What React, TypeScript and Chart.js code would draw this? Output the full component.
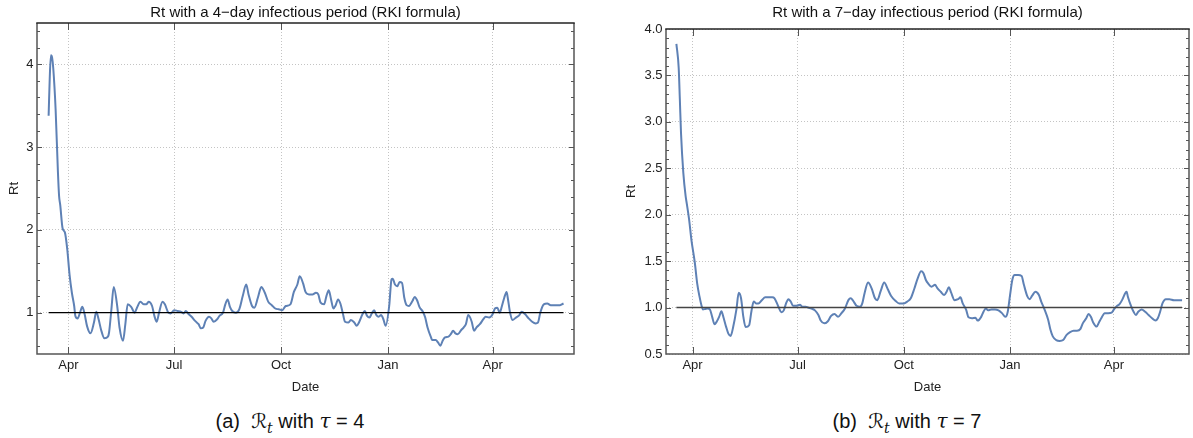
import React, { useEffect, useRef } from "react";
import { Chart, registerables } from "chart.js";

Chart.register(...registerables);

// ---------- tick labels ----------
const xTickDays = [0, 91, 183, 275, 365]; // days since 1 Apr 2020
const xTickLabels = ["Apr", "Jul", "Oct", "Jan", "Apr"];
const leftYTicks = [1, 2, 3, 4];
const rightYTicks = [0.5, 1.0, 1.5, 2.0, 2.5, 3.0, 3.5, 4.0];

// ---------- series: tau = 4 ----------
const leftDays = [
  -17, -16, -15, -14, -13, -11, -9, -8, -7, -5, -3, -1, 1, 3, 5, 6, 8, 10, 12, 14, 16, 19, 22, 24, 26, 28, 31, 34, 35, 37,
  39, 42, 44, 47, 49, 51, 54, 57, 59, 62, 65, 67, 69, 72, 74, 76, 78, 81, 83, 86, 88, 91, 94, 97, 99, 101, 103, 106, 109,
  112, 114, 116, 118, 121, 123, 125, 128, 130, 133, 135, 137, 139, 141, 144, 147, 150, 153, 155, 158, 160, 163, 166, 169,
  172, 175, 178, 181, 184, 187, 191, 194, 197, 199, 202, 204, 207, 210, 213, 215, 217, 220, 222, 224, 226, 228, 230, 232,
  234, 236, 238, 241, 243, 246, 248, 250, 253, 255, 257, 259, 261, 263, 265, 267, 269, 271, 273, 276, 278, 279, 281, 283,
  285, 287, 289, 291, 293, 296, 298, 300, 302, 305, 307, 309, 312, 313, 316, 318, 320, 322, 324, 327, 329, 331, 333, 335,
  338, 340, 342, 344, 347, 349, 351, 354, 357, 359, 362, 365, 367, 369, 371, 373, 375, 377, 378, 380, 382, 385, 388, 390,
  393, 396, 399, 402, 404, 406, 409, 412, 415, 418, 421, 423, 426,
];
const leftRt = [
  3.38, 3.85, 4.11, 4.08, 3.95, 3.46, 2.7, 2.41, 2.3, 2.02, 1.97, 1.77, 1.46, 1.24, 1.08, 0.96, 0.93, 1.0, 1.07, 0.98, 0.84,
  0.75, 0.88, 1.01, 0.92, 0.8, 0.69, 0.71, 0.76, 1.04, 1.31, 1.08, 0.82, 0.66, 0.86, 1.1, 1.07, 1.0, 1.06, 1.13, 1.1, 1.1,
  1.13, 1.08, 0.96, 0.89, 1.0, 1.13, 1.1, 1.0, 0.99, 1.03, 1.02, 1.01, 0.99, 1.02, 0.99, 0.95, 0.9, 0.86, 0.81, 0.82, 0.9,
  0.95, 0.93, 0.89, 0.92, 0.96, 1.0, 1.1, 1.16, 1.07, 1.02, 1.0, 1.04, 1.2, 1.34, 1.22, 1.08, 1.06, 1.18, 1.31, 1.24, 1.13,
  1.09, 1.05, 1.04, 1.03, 1.08, 1.1, 1.25, 1.34, 1.44, 1.35, 1.25, 1.22, 1.22, 1.24, 1.22, 1.12, 1.1, 1.2, 1.27, 1.16,
  1.05, 1.09, 1.16, 1.11, 1.0, 0.89, 0.88, 0.91, 0.88, 0.84, 0.88, 0.98, 1.02, 0.96, 0.94, 0.99, 1.03, 0.97, 0.95, 0.97,
  0.92, 0.84, 1.08, 1.4, 1.41, 1.34, 1.32, 1.37, 1.36, 1.18, 1.09, 1.08, 1.14, 1.19, 1.15, 1.07, 1.01, 0.94, 0.82, 0.7,
  0.67, 0.67, 0.64, 0.6, 0.66, 0.7, 0.71, 0.74, 0.78, 0.75, 0.74, 0.79, 0.82, 0.86, 0.97, 0.89, 0.78, 0.82, 0.86, 0.92,
  0.95, 0.94, 0.98, 1.05, 1.06, 1.0, 1.08, 1.18, 1.25, 1.18, 1.0, 0.91, 0.94, 0.97, 1.01, 0.98, 0.93, 0.89, 0.87, 0.88,
  1.0, 1.1, 1.11, 1.09, 1.09, 1.09, 1.09, 1.11,
];

// ---------- series: tau = 7 ----------
const rightDays = [
  -14, -12, -11, -10, -8, -6, -5, -3, -1, 2, 4, 6, 8, 9, 11, 13, 15, 17, 19, 21, 23, 25, 27, 29, 31, 33, 35, 38, 40, 42,
  44, 46, 49, 51, 53, 55, 57, 60, 63, 66, 69, 71, 74, 77, 79, 81, 83, 85, 87, 90, 93, 95, 98, 100, 103, 106, 109, 111,
  114, 117, 120, 123, 126, 129, 132, 135, 137, 139, 142, 145, 147, 149, 152, 155, 158, 160, 163, 166, 169, 172, 176, 179,
  183, 186, 189, 192, 195, 198, 200, 202, 204, 207, 210, 212, 215, 218, 220, 222, 224, 227, 230, 232, 234, 237, 239, 242,
  245, 247, 250, 252, 254, 256, 259, 262, 265, 268, 271, 273, 275, 277, 279, 282, 285, 287, 290, 292, 294, 297, 300, 302,
  305, 308, 310, 312, 315, 318, 321, 324, 327, 330, 333, 336, 338, 341, 343, 345, 347, 350, 352, 354, 357, 360, 363, 365,
  367, 370, 372, 375, 376, 377, 380, 382, 384, 386, 389, 392, 395, 398, 401, 403, 405, 407, 410, 413, 417, 420, 424,
];
const rightRt = [
  3.84, 3.58, 3.24, 2.88, 2.45, 2.2, 2.12, 1.95, 1.73, 1.48, 1.26, 1.12, 1.01, 0.98, 0.985, 0.99, 0.98, 0.9, 0.82, 0.85,
  0.9, 0.96, 0.885, 0.795, 0.72, 0.695, 0.78, 0.98, 1.16, 1.1, 0.9, 0.79, 0.81, 0.96, 1.065, 1.045, 1.045, 1.08, 1.11,
  1.11, 1.11, 1.1, 1.02, 0.95, 0.97, 1.045, 1.09, 1.065, 1.02, 1.02, 1.03, 1.01, 1.01, 1.0, 0.99, 0.97, 0.92, 0.86, 0.83,
  0.85, 0.91, 0.93, 0.9, 0.94, 0.99, 1.08, 1.1, 1.075, 1.02, 1.01, 1.045, 1.155, 1.27, 1.21, 1.1, 1.08, 1.18, 1.27, 1.2,
  1.125, 1.07, 1.045, 1.045, 1.065, 1.1, 1.2, 1.315, 1.39, 1.37, 1.3, 1.26, 1.225, 1.245, 1.21, 1.17, 1.135, 1.17, 1.22,
  1.16, 1.08, 1.09, 1.11, 1.045, 0.975, 0.895, 0.885, 0.89, 0.86, 0.9, 0.955, 0.99, 0.97, 0.98, 0.98, 0.97, 0.94, 0.9,
  0.955, 1.135, 1.3, 1.35, 1.35, 1.34, 1.245, 1.12, 1.09, 1.125, 1.17, 1.135, 1.065, 0.975, 0.87, 0.76, 0.69, 0.65, 0.64,
  0.65, 0.705, 0.735, 0.75, 0.75, 0.77, 0.83, 0.885, 0.93, 0.9, 0.84, 0.795, 0.84, 0.885, 0.94, 0.94, 0.945, 0.98, 1.01,
  1.04, 1.08, 1.16, 1.17, 1.12, 1.01, 0.955, 0.92, 0.955, 0.98, 0.955, 0.92, 0.885, 0.86, 0.885, 0.955, 1.045, 1.09, 1.09,
  1.08, 1.08, 1.08,
];

const referenceLevel = 1;

// ---------- frame / inward ticks plugin (uses the chart's scales) ----------
const frameTicks = {
  id: "frameTicks",
  afterDraw(chart: any, _args: any, o: any) {
    const { ctx, chartArea: a } = chart;
    const x = chart.scales.x;
    const y = chart.scales.y;
    ctx.save();
    ctx.lineWidth = 1;
    ctx.strokeStyle = o.tickColor;
    ctx.beginPath();
    o.xMajor.forEach((v: number) => {
      const px = Math.round(x.getPixelForValue(v)) + 0.5;
      ctx.moveTo(px, a.bottom);
      ctx.lineTo(px, a.bottom - o.xLen);
      ctx.moveTo(px, a.top);
      ctx.lineTo(px, a.top + o.xLen);
    });
    const n = Math.round((o.yMax - o.yMin) / o.yStep);
    for (let i = 0; i <= n; i++) {
      const v = o.yMin + i * o.yStep;
      const major = o.yMajor.some((m: number) => Math.abs(m - v) < 1e-6);
      const len = major ? o.yMajorLen : o.yMinorLen;
      const py = Math.round(y.getPixelForValue(v)) + 0.5;
      ctx.moveTo(a.left, py);
      ctx.lineTo(a.left + len, py);
      ctx.moveTo(a.right, py);
      ctx.lineTo(a.right - len, py);
    }
    ctx.stroke();
    ctx.lineWidth = 1.5;
    ctx.strokeStyle = o.frameColor;
    ctx.beginPath();
    ctx.moveTo(a.left, a.top);
    ctx.lineTo(a.left, a.bottom);
    ctx.lineTo(a.right, a.bottom);
    ctx.lineTo(a.right, a.top);
    ctx.stroke();
    ctx.strokeStyle = o.topColor;
    ctx.beginPath();
    ctx.moveTo(a.left - 0.75, a.top);
    ctx.lineTo(a.right + 0.75, a.top);
    ctx.stroke();
    ctx.restore();
  },
};

Chart.defaults.font.family = "'Liberation Sans', Arial, Helvetica, sans-serif";
Chart.defaults.color = "#222";

type PanelProps = {
  left: number;
  width: number;
  height: number;
  title: string;
  days: number[];
  values: number[];
  xMin: number;
  xMax: number;
  yMin: number;
  yMax: number;
  yTicks: number[];
  yDecimals: number;
  yAxisWidth: number;
  yTitlePad: number;
  padRight: number;
  titlePadBottom: number;
  minorFrom: number;
  minorTo: number;
  minorStep: number;
  refColor: string;
  refWidth: number;
};

function Panel(p: PanelProps) {
  const ref = useRef<HTMLCanvasElement | null>(null);
  useEffect(() => {
    if (!ref.current) return;
    const series = p.days.map((d, i) => ({ x: d, y: p.values[i] }));
    const refLine = [
      { x: p.days[0], y: referenceLevel },
      { x: p.days[p.days.length - 1], y: referenceLevel },
    ];
    const gridOpts = { color: "#c4c4c4", lineWidth: 1, drawTicks: false };
    const chart = new Chart(ref.current, {
      type: "line",
      data: {
        datasets: [
          {
            data: refLine,
            borderColor: p.refColor,
            borderWidth: p.refWidth,
            pointRadius: 0,
            tension: 0,
          },
          {
            data: series,
            borderColor: "#5e81b5",
            borderWidth: 2,
            pointRadius: 0,
            cubicInterpolationMode: "monotone",
          },
        ],
      },
      options: {
        animation: false,
        responsive: false,
        events: [],
        layout: { padding: { left: 0, right: p.padRight, top: 0, bottom: 0 } },
        plugins: {
          legend: { display: false },
          tooltip: { enabled: false },
          title: {
            display: true,
            text: p.title,
            fullSize: false,
            color: "#111",
            font: { size: 15, weight: "normal" },
            padding: { top: 4, bottom: p.titlePadBottom },
          },
          frameTicks: {
            xMajor: xTickDays,
            xLen: 7,
            yMajor: p.yTicks,
            yMin: p.minorFrom,
            yMax: p.minorTo,
            yStep: p.minorStep,
            yMajorLen: 5,
            yMinorLen: 3,
            tickColor: "#555",
            frameColor: "#555",
            topColor: "#222",
          },
        } as any,
        scales: {
          x: {
            type: "linear",
            min: p.xMin,
            max: p.xMax,
            afterBuildTicks: (s: any) => {
              s.ticks = xTickDays.map((v) => ({ value: v }));
            },
            afterFit: (s: any) => {
              s.height = 46;
            },
            ticks: {
              autoSkip: false,
              maxRotation: 0,
              padding: 3.8,
              color: "#222",
              font: { size: 13 },
              callback: (_v: any, i: number) => xTickLabels[i],
            },
            grid: gridOpts,
            border: { display: false, dash: [1, 2] },
            title: {
              display: true,
              text: "Date",
              color: "#222",
              font: { size: 13 },
              padding: { top: 0, bottom: 4.7 },
            },
          },
          y: {
            type: "linear",
            min: p.yMin,
            max: p.yMax,
            afterBuildTicks: (s: any) => {
              s.ticks = p.yTicks.map((v) => ({ value: v }));
            },
            afterFit: (s: any) => {
              s.width = p.yAxisWidth;
            },
            ticks: {
              padding: 3.5,
              color: "#222",
              font: { size: 13 },
              callback: (v: any) => Number(v).toFixed(p.yDecimals),
            },
            grid: gridOpts,
            border: { display: false, dash: [1, 2] },
            title: {
              display: true,
              text: "Rt",
              color: "#222",
              font: { size: 13 },
              padding: { top: p.yTitlePad, bottom: 0 },
            },
          },
        },
      } as any,
      plugins: [frameTicks as any],
    });
    return () => chart.destroy();
  }, []);
  return (
    <canvas
      ref={ref}
      width={p.width}
      height={p.height}
      style={{ position: "absolute", left: p.left, top: 0, width: p.width, height: p.height, display: "block" }}
    />
  );
}

function Caption({ center, letter, tau }: { center: number; letter: string; tau: string }) {
  return (
    <div
      style={{
        position: "absolute",
        left: center - 200,
        width: 400,
        top: 409,
        textAlign: "center",
        fontFamily: "'Liberation Sans', Arial, sans-serif",
        fontSize: 20,
        lineHeight: "24px",
        color: "#111",
        whiteSpace: "pre",
      }}
    >
      <span>{"(" + letter + ")  "}</span>
      <span style={{ fontFamily: "'DejaVu Serif', 'DejaVu Sans', serif", fontStyle: "italic" }}>ℛ</span>
      <span style={{ fontFamily: "'DejaVu Serif', serif", fontStyle: "italic", fontSize: 14, position: "relative", top: 5 }}>
        t
      </span>
      <span>{" with "}</span>
      <span style={{ fontFamily: "'DejaVu Serif', serif", fontStyle: "italic" }}>τ</span>
      <span>{" = " + tau}</span>
    </div>
  );
}

export default function App() {
  return (
    <div style={{ position: "absolute", left: 0, top: 0, width: 1193, height: 438, background: "#fff", overflow: "hidden" }}>
      <Panel
        left={0}
        width={590}
        height={400}
        title="Rt with a 4−day infectious period (RKI formula)"
        days={leftDays}
        values={leftRt}
        xMin={-27}
        xMax={435}
        yMin={0.5}
        yMax={4.5}
        yTicks={leftYTicks}
        yDecimals={0}
        yAxisWidth={37}
        yTitlePad={6.5}
        padRight={16}
        titlePadBottom={1}
        minorFrom={0.6}
        minorTo={4.4}
        minorStep={0.2}
        refColor="#000"
        refWidth={1.2}
      />
      <Panel
        left={600}
        width={593}
        height={400}
        title="Rt with a 7−day infectious period (RKI formula)"
        days={rightDays}
        values={rightRt}
        xMin={-23}
        xMax={430}
        yMin={0.5}
        yMax={4.0}
        yTicks={rightYTicks}
        yDecimals={1}
        yAxisWidth={66}
        yTitlePad={23.5}
        padRight={4}
        titlePadBottom={7}
        minorFrom={0.6}
        minorTo={3.9}
        minorStep={0.1}
        refColor="#444"
        refWidth={1.6}
      />
      <Caption center={290} letter="a" tau="4" />
      <Caption center={907} letter="b" tau="7" />
    </div>
  );
}
